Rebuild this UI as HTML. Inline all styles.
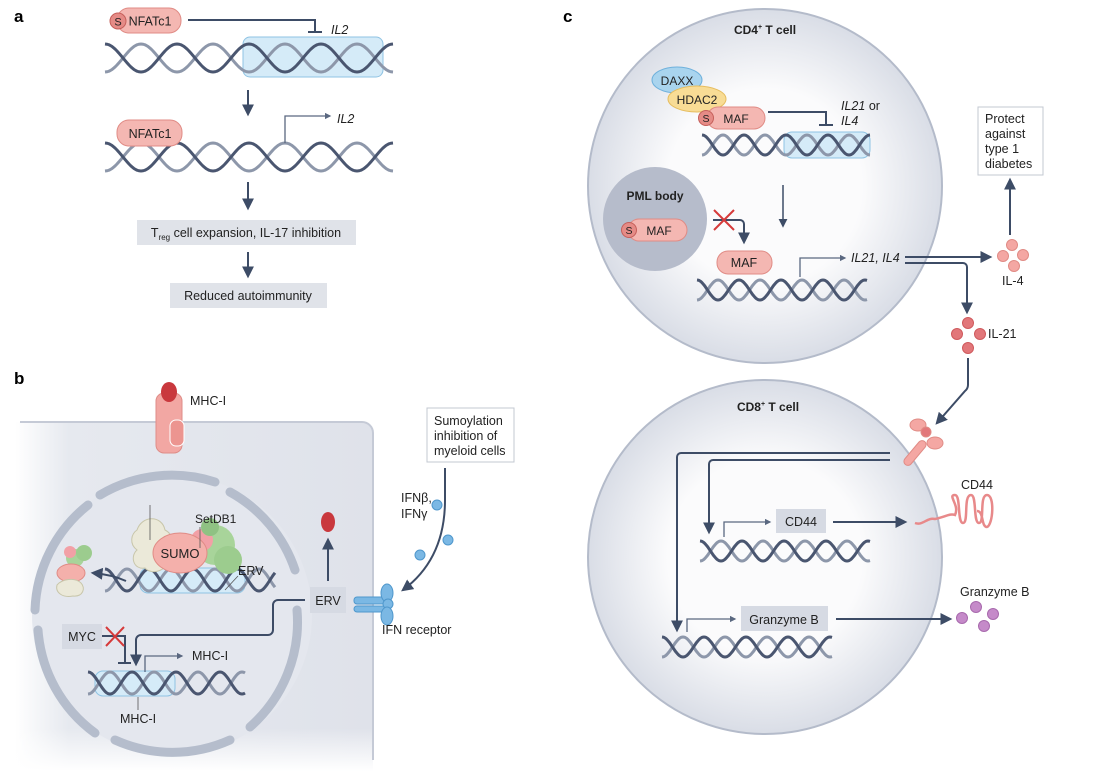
<!DOCTYPE html>
<html><head><meta charset="utf-8"><style>
html,body{margin:0;padding:0;background:#fff}
svg{display:block}
text{font-family:"Liberation Sans",sans-serif;fill:#222}
</style></head><body>
<svg id="s" width="1100" height="771" viewBox="0 0 1100 771" xmlns="http://www.w3.org/2000/svg">
<defs>
<marker id="ar" viewBox="0 0 10 10" refX="8" refY="5" markerWidth="6" markerHeight="6" orient="auto"><path d="M0,0L10,5L0,10z" fill="#3d4c66"/></marker>
<marker id="ar2" viewBox="0 0 10 10" refX="8" refY="5" markerWidth="5" markerHeight="5" orient="auto"><path d="M0,0L10,5L0,10z" fill="#5a6880"/></marker>
<radialGradient id="cg" cx="50%" cy="50%" r="50%"><stop offset="0.55" stop-color="#fbfbfc"/><stop offset="1" stop-color="#d9dde6"/></radialGradient>
<linearGradient id="bg" x1="0" x2="1" y1="0" y2="0"><stop offset="0" stop-color="#fff"/><stop offset="0.15" stop-color="#e6e9ef"/><stop offset="1" stop-color="#dfe2ea"/></linearGradient>
<linearGradient id="bgv" x1="0" x2="0" y1="0" y2="1"><stop offset="0.75" stop-color="#fff" stop-opacity="0"/><stop offset="1" stop-color="#fff" stop-opacity="1"/></linearGradient>
</defs>

<!-- Panel a -->
<text x="14" y="22" font-weight="bold" font-size="17" style="fill:#000">a</text>
<rect x="243" y="37" width="140" height="40" rx="7" fill="#d5ebf8" stroke="#8fc3e3"/>
<g id="d1"></g>
<rect x="117" y="8" width="64" height="25" rx="12" fill="#f4b7b2" stroke="#e08b85"/>
<circle cx="118" cy="21" r="8" fill="#e58b86" stroke="#c55f5a"/><text x="118" y="25.5" font-size="11" text-anchor="middle">S</text>
<text x="150" y="25.5" font-size="12.5" text-anchor="middle">NFATc1</text>
<path d="M188,20H315V32" fill="none" stroke="#3d4c66" stroke-width="2"/><path d="M308,32H322" stroke="#3d4c66" stroke-width="2"/>
<text x="331" y="34" font-size="12.5" font-style="italic">IL2</text>
<path d="M248,90V114" stroke="#3d4c66" stroke-width="2" marker-end="url(#ar)"/>
<rect x="117" y="120" width="65" height="26" rx="12" fill="#f4b7b2" stroke="#e08b85"/>
<text x="150" y="138" font-size="12.5" text-anchor="middle">NFATc1</text>
<path d="M285,143V116H330" fill="none" stroke="#5a6880" stroke-width="1.3" marker-end="url(#ar2)"/>
<text x="337" y="123" font-size="12.5" font-style="italic">IL2</text>
<path d="M248,182V208" stroke="#3d4c66" stroke-width="2" marker-end="url(#ar)"/>
<rect x="137" y="220" width="219" height="25" fill="#e0e3e9"/>
<text x="246" y="237" font-size="12.5" text-anchor="middle">T<tspan font-size="8" dy="3">reg</tspan><tspan dy="-3"> cell expansion, IL-17 inhibition</tspan></text>
<path d="M248,252V276" stroke="#3d4c66" stroke-width="2" marker-end="url(#ar)"/>
<rect x="170" y="283" width="157" height="25" fill="#e0e3e9"/>
<text x="248" y="300" font-size="12.5" text-anchor="middle">Reduced autoimmunity</text>

<!-- Panel b -->
<text x="14" y="384" font-weight="bold" font-size="17" style="fill:#000">b</text>
<path d="M15,422H362a11,11 0 0 1 11,11V771H15z" fill="url(#bg)"/>
<path d="M15,600H373V771H15z" fill="url(#bgv)"/>
<path d="M20,422H362a11,11 0 0 1 11,11V760" fill="none" stroke="#c5cad6" stroke-width="2"/>
<rect x="156" y="393" width="26" height="60" rx="8" fill="#f2a7a3" stroke="#df8d88"/>
<rect x="170" y="420" width="14" height="26" rx="6" fill="#ec9590" stroke="#fff"/>
<ellipse cx="169" cy="392" rx="8" ry="10" fill="#c9383d"/>
<text x="190" y="405" font-size="12.5">MHC-I</text>
<circle cx="172" cy="615" r="140" fill="#e4e7ee"/>
<g fill="none" stroke="#b5bdcc" stroke-width="9" stroke-linecap="round">
<path d="M100,495A140,140 0 0 1 215,482"/>
<path d="M230,492A140,140 0 0 1 295,570"/>
<path d="M297,610A140,140 0 0 1 250,727"/>
<path d="M230,740A140,140 0 0 1 115,740"/>
<path d="M95,733A140,140 0 0 1 38,630"/>
<path d="M35,610A140,140 0 0 1 88,505"/>
</g>
<rect x="140" y="568" width="105" height="25" rx="8" fill="#d5ebf8" stroke="#8fc3e3"/>
<rect x="95" y="671" width="80" height="25" rx="8" fill="#d5ebf8" stroke="#8fc3e3"/>
<g id="d2"></g>
<g>
<circle cx="215" cy="545" r="20" fill="#a8d49a"/><circle cx="228" cy="560" r="14" fill="#9ccc8e"/><circle cx="202" cy="540" r="11" fill="#f2a0a6"/><circle cx="210" cy="527" r="9" fill="#8fc283"/>
<path d="M137,530c5-15,25-15,28,0c10,5,10,20,2,28c3,12-15,18-22,10c-12,2-15-12-8-18c-8-6-6-16,0-20z" fill="#ebe9d9" stroke="#c8c6aa"/>
<ellipse cx="180" cy="553" rx="27" ry="20" fill="#f4b0ab" stroke="#e08b85"/>
<text x="180" y="558" font-size="13" text-anchor="middle">SUMO</text>
<path d="M150,540V505" stroke="#555" stroke-width="0.8"/>
<text x="195" y="523" font-size="12">SetDB1</text><path d="M200,527V548" stroke="#555" stroke-width="0.8"/>
<text x="238" y="575" font-size="12.5">ERV</text><path d="M238,576L225,590" stroke="#555" stroke-width="0.8"/>
<circle cx="75" cy="558" r="9" fill="#a8d49a"/><circle cx="84" cy="553" r="8" fill="#9ccc8e"/><circle cx="70" cy="552" r="6" fill="#f2a0a6"/>
<ellipse cx="71" cy="573" rx="14" ry="9" fill="#f4b0ab" stroke="#e08b85"/>
<path d="M57,585c5-6,18-8,24-2c5,5,2,14-8,13c-10,2-18-3-16-11z" fill="#ebe9d9" stroke="#c8c6aa"/>
</g>
<path d="M126,581C115,576,105,574,93,573" fill="none" stroke="#3d4c66" stroke-width="2" marker-end="url(#ar)"/>
<rect x="62" y="624" width="40" height="25" fill="#d6dae3"/><text x="82" y="641" font-size="12.5" text-anchor="middle">MYC</text>
<path d="M102,636H125V663" fill="none" stroke="#3d4c66" stroke-width="2"/><path d="M118,663H131" stroke="#3d4c66" stroke-width="2"/>
<path d="M106,627L124,646M124,627L106,646" stroke="#d63a3a" stroke-width="2"/>
<path d="M305,600H278a5,5 0 0 0 -5,5V630a5,5 0 0 1 -5,5H141a5,5 0 0 0 -5,5V664" fill="none" stroke="#3d4c66" stroke-width="2" marker-end="url(#ar)"/>
<path d="M145,672V656H182" fill="none" stroke="#5a6880" stroke-width="1.3" marker-end="url(#ar2)"/>
<text x="192" y="660" font-size="12.5">MHC-I</text>
<path d="M138,697V710" stroke="#555" stroke-width="0.8"/><text x="120" y="723" font-size="12.5">MHC-I</text>
<rect x="310" y="587" width="36" height="26" fill="#d6dae3"/><text x="328" y="605" font-size="12.5" text-anchor="middle">ERV</text>
<path d="M328,581V540" stroke="#3d4c66" stroke-width="2" marker-end="url(#ar)"/>
<ellipse cx="328" cy="522" rx="7" ry="10" fill="#c9383d"/>
<rect x="354" y="597" width="35" height="7" rx="3" fill="#7bb8e4" stroke="#4f97cc"/>
<rect x="354" y="606" width="35" height="6" rx="3" fill="#7bb8e4" stroke="#4f97cc"/>
<ellipse cx="387" cy="593" rx="6" ry="9" fill="#7bb8e4" stroke="#4f97cc"/>
<circle cx="388" cy="604" r="5" fill="#7bb8e4" stroke="#4f97cc"/>
<ellipse cx="387" cy="616" rx="6" ry="9" fill="#7bb8e4" stroke="#4f97cc"/>
<text x="382" y="634" font-size="12.5">IFN receptor</text>
<rect x="427" y="408" width="87" height="54" fill="#fff" stroke="#c3c8d2"/>
<text x="434" y="425" font-size="12.5">Sumoylation</text><text x="434" y="440" font-size="12.5">inhibition of</text><text x="434" y="455" font-size="12.5">myeloid cells</text>
<path d="M445,468V500C445,540,430,570,403,590" fill="none" stroke="#3d4c66" stroke-width="2" marker-end="url(#ar)"/>
<text x="401" y="502" font-size="12.5">IFNβ,</text><text x="401" y="518" font-size="12.5">IFNγ</text>
<g fill="#7bb8e4" stroke="#4f97cc"><circle cx="437" cy="505" r="5"/><circle cx="448" cy="540" r="5"/><circle cx="420" cy="555" r="5"/></g>

<!-- Panel c -->
<text x="563" y="22" font-weight="bold" font-size="17" style="fill:#000">c</text>
<circle cx="765" cy="186" r="177" fill="url(#cg)" stroke="#b4bbca" stroke-width="2"/>
<text x="765" y="34" font-size="12" font-weight="bold" text-anchor="middle">CD4<tspan font-size="7" dy="-5">+</tspan><tspan dy="5"> T cell</tspan></text>
<ellipse cx="677" cy="80" rx="25" ry="13" fill="#a9d4ee" stroke="#6fb1dc"/><text x="677" y="85" font-size="12" text-anchor="middle">DAXX</text>
<ellipse cx="697" cy="99" rx="29" ry="13" fill="#f8dc95" stroke="#e6bd5f"/><text x="697" y="104" font-size="12" text-anchor="middle">HDAC2</text>
<rect x="707" y="107" width="58" height="22" rx="11" fill="#f4b7b2" stroke="#e08b85"/>
<circle cx="706" cy="118" r="7.5" fill="#e58b86" stroke="#c55f5a"/><text x="706" y="122" font-size="10.5" text-anchor="middle">S</text>
<text x="736" y="123" font-size="12" text-anchor="middle">MAF</text>
<path d="M768,112H826V124" fill="none" stroke="#3d4c66" stroke-width="2"/><path d="M819,125H833" stroke="#3d4c66" stroke-width="2"/>
<text x="841" y="110" font-size="12.5"><tspan font-style="italic">IL21</tspan> or</text><text x="841" y="125" font-size="12.5" font-style="italic">IL4</text>
<rect x="784" y="132" width="86" height="26" rx="8" fill="#d5ebf8" stroke="#8fc3e3"/>
<path d="M783,185V226" stroke="#3d4c66" stroke-width="1.5" marker-end="url(#ar)"/>
<circle cx="655" cy="219" r="52" fill="#b6bccb"/>
<text x="655" y="200" font-size="12" font-weight="bold" text-anchor="middle">PML body</text>
<rect x="628" y="219" width="59" height="22" rx="11" fill="#f4b7b2" stroke="#e08b85"/>
<circle cx="629" cy="230" r="7.5" fill="#e58b86" stroke="#c55f5a"/><text x="629" y="234" font-size="10.5" text-anchor="middle">S</text>
<text x="659" y="235" font-size="12" text-anchor="middle">MAF</text>
<path d="M713,220H740a4,4 0 0 1 4,4V242" fill="none" stroke="#3d4c66" stroke-width="2" marker-end="url(#ar)"/>
<path d="M714,210L734,230M734,210L714,230" stroke="#d63a3a" stroke-width="2"/>
<rect x="717" y="251" width="55" height="23" rx="11" fill="#f4b7b2" stroke="#e08b85"/><text x="744" y="267" font-size="12.5" text-anchor="middle">MAF</text>
<path d="M800,277V258H845" fill="none" stroke="#5a6880" stroke-width="1.3" marker-end="url(#ar2)"/>
<text x="851" y="262" font-size="12.5" font-style="italic">IL21, IL4</text>
<path d="M905,257H990" stroke="#3d4c66" stroke-width="2" marker-end="url(#ar)"/>
<path d="M905,263H963a4,4 0 0 1 4,4V312" fill="none" stroke="#3d4c66" stroke-width="2" marker-end="url(#ar)"/>
<g fill="#f4a7a3" stroke="#e08b85"><circle cx="1012" cy="245" r="5.5"/><circle cx="1003" cy="256" r="5.5"/><circle cx="1023" cy="255" r="5.5"/><circle cx="1014" cy="266" r="5.5"/></g>
<text x="1002" y="285" font-size="12.5">IL-4</text>
<path d="M1010,235V180" stroke="#3d4c66" stroke-width="2" marker-end="url(#ar)"/>
<rect x="978" y="107" width="65" height="68" fill="#fff" stroke="#c3c8d2"/>
<text x="985" y="123" font-size="12.5">Protect</text><text x="985" y="138" font-size="12.5">against</text><text x="985" y="153" font-size="12.5">type 1</text><text x="985" y="168" font-size="12.5">diabetes</text>
<g fill="#e2777a" stroke="#cf5a5d"><circle cx="968" cy="323" r="5.5"/><circle cx="957" cy="334" r="5.5"/><circle cx="980" cy="334" r="5.5"/><circle cx="968" cy="348" r="5.5"/></g>
<text x="988" y="338" font-size="12.5">IL-21</text>
<path d="M968,358V385a8,8 0 0 1 -3,6L937,423" fill="none" stroke="#3d4c66" stroke-width="2" marker-end="url(#ar)"/>

<circle cx="765" cy="557" r="177" fill="url(#cg)" stroke="#b4bbca" stroke-width="2"/>
<text x="768" y="411" font-size="12" font-weight="bold" text-anchor="middle">CD8<tspan font-size="7" dy="-5">+</tspan><tspan dy="5"> T cell</tspan></text>
<g fill="#f4a7a3" stroke="#e08b85">
<rect x="911" y="438" width="8" height="30" rx="4" transform="rotate(40 915 453)"/>
<ellipse cx="918" cy="425" rx="8" ry="6"/><ellipse cx="935" cy="443" rx="8" ry="6"/>
<circle cx="926" cy="432" r="5" fill="#e2777a"/></g>
<path d="M890,453H681a4,4 0 0 0 -4,4V630" fill="none" stroke="#3d4c66" stroke-width="2" marker-end="url(#ar)"/>
<path d="M890,460H713a4,4 0 0 0 -4,4V532" fill="none" stroke="#3d4c66" stroke-width="2" marker-end="url(#ar)"/>
<path d="M724,537V522H770" fill="none" stroke="#5a6880" stroke-width="1.3" marker-end="url(#ar2)"/>
<rect x="776" y="509" width="50" height="24" fill="#d6dae3"/><text x="801" y="526" font-size="12.5" text-anchor="middle">CD44</text>
<path d="M833,522H905" stroke="#3d4c66" stroke-width="2" marker-end="url(#ar)"/>
<path d="M915,523c8,3,12-6,20-4c10,-2,15,-6,20,-4c5,-10,-8,-20,0,-20c6,0,2,28,8,28c6,0,0,-28,8,-28c6,0,2,28,8,28c6,0,0,-28,8,-28c8,0,6,30,0,32c-6,0,-3,-16,-10,-16" fill="none" stroke="#e8898a" stroke-width="2.5"/>
<text x="961" y="489" font-size="12.5">CD44</text>
<path d="M687,632V619H735" fill="none" stroke="#5a6880" stroke-width="1.3" marker-end="url(#ar2)"/>
<rect x="741" y="606" width="87" height="25" fill="#d6dae3"/><text x="784" y="624" font-size="12.5" text-anchor="middle">Granzyme B</text>
<path d="M836,619H950" stroke="#3d4c66" stroke-width="2" marker-end="url(#ar)"/>
<g fill="#c58ac9" stroke="#a86aad"><circle cx="962" cy="618" r="5.5"/><circle cx="976" cy="607" r="5.5"/><circle cx="993" cy="614" r="5.5"/><circle cx="984" cy="626" r="5.5"/></g>
<text x="960" y="596" font-size="12.5">Granzyme B</text>
<g id="d3"></g>
</svg>
<script>
function dna(g,x0,x1,cy,amp,per){
  var ns="http://www.w3.org/2000/svg";
  var a="",b="";
  for(var x=x0;x<=x1;x+=1){var t=(x-x0)/per*2*Math.PI;var y1=cy-amp*Math.cos(t),y2=cy+amp*Math.cos(t);a+=(x==x0?"M":"L")+x+","+y1.toFixed(1);b+=(x==x0?"M":"L")+x+","+y2.toFixed(1);}
  [[b,"#8d97aa"],[a,"#4a5670"]].forEach(function(p){var e=document.createElementNS(ns,"path");e.setAttribute("d",p[0]);e.setAttribute("fill","none");e.setAttribute("stroke",p[1]);e.setAttribute("stroke-width","3");g.appendChild(e);});
}
var g1=document.getElementById("d1"),g2=document.getElementById("d2"),g3=document.getElementById("d3"),sv=document.getElementById("s");
dna(g1,105,393,58,14,72);dna(g1,105,393,157,14,72);
dna(g2,105,275,580,11,44);dna(g2,88,245,683,11,44);
dna(sv,702,870,145,10,42);
dna(sv,697,867,290,10,42);
dna(g3,700,870,551,10,42);dna(g3,662,832,647,10,42);
</script>
</body></html>
